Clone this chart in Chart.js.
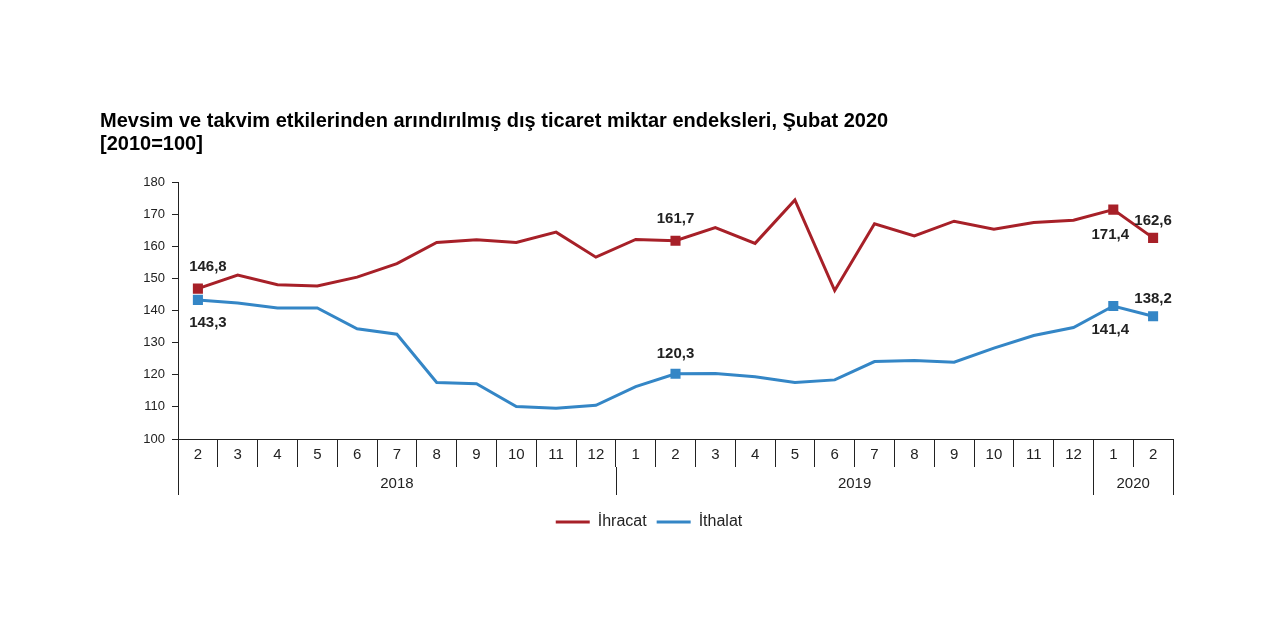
<!DOCTYPE html>
<html>
<head>
<meta charset="utf-8">
<script src="https://cdn.jsdelivr.net/npm/chart.js@4.4.0/dist/chart.umd.min.js"></script>
<style>
  body { margin: 0; background: #fff; }
  #wrap { position: relative; width: 1280px; height: 640px; }
  #title {
    position: absolute; left: 100px; top: 109px;
    font: bold 20px "Liberation Sans", Arial, sans-serif;
    line-height: 23px; color: #000;
  }
  canvas { position: absolute; left: 0; top: 0; }
</style>
</head>
<body>
<div id="wrap">
  <canvas id="chart" width="1280" height="640"></canvas>
  <div id="title">Mevsim ve takvim etkilerinden arındırılmış dış ticaret miktar endeksleri, Şubat 2020<br>[2010=100]</div>
</div>
<script>
// months Feb 2018 .. Feb 2020
let months = ['2','3','4','5','6','7','8','9','10','11','12',
              '1','2','3','4','5','6','7','8','9','10','11','12',
              '1','2'];
let years = ['2018', '2019', '2020'];
let yearSpans = [11, 12, 2];

let ihracat = [146.8, 151.0, 148.0, 147.6, 150.4, 154.6, 161.2, 162.0, 161.2, 164.4, 156.6,
               162.1, 161.7, 165.8, 160.9, 174.4, 146.2, 167.0, 163.2, 167.8, 165.3, 167.4, 168.1,
               171.4, 162.6];
let ithalat = [143.3, 142.3, 140.8, 140.8, 134.3, 132.6, 117.6, 117.2, 110.1, 109.6, 110.5,
               116.3, 120.3, 120.4, 119.4, 117.6, 118.4, 124.1, 124.4, 123.9, 128.3, 132.2, 134.7,
               141.4, 138.2];
let markedPoints = [0, 12, 23, 24];
let yTicks = [100, 110, 120, 130, 140, 150, 160, 170, 180];

let red = 'rgb(167,32,40)';
let blue = 'rgb(52,134,198)';
let axisColor = '#222';
let font = '"Liberation Sans", Arial, sans-serif';

// where each value label sits relative to its point [index, dx, dy]
let labelPlace = [
  [[0, 10, -22], [12, 0, -22], [23, -3, 25], [24, 0, -17]],
  [[0, 10, 23], [12, 0, -20], [23, -3, 24], [24, 0, -17]]
];

function radii() {
  return months.map((m, i) => markedPoints.includes(i) ? 5 : 0);
}

const valueLabels = {
  id: 'valueLabels',
  afterDatasetsDraw(chart) {
    let ctx = chart.ctx;
    ctx.save();
    ctx.font = 'bold 15px ' + font;
    ctx.fillStyle = '#222';
    ctx.textAlign = 'center';
    ctx.textBaseline = 'middle';
    chart.data.datasets.forEach((ds, d) => {
      let meta = chart.getDatasetMeta(d);
      labelPlace[d].forEach(([i, dx, dy]) => {
        let pt = meta.data[i];
        ctx.fillText(ds.data[i].toFixed(1).replace('.', ','), pt.x + dx, pt.y + dy);
      });
    });
    ctx.restore();
  }
};

const yearAxis = {
  id: 'yearAxis',
  afterDraw(chart) {
    let ctx = chart.ctx;
    let x = chart.scales.x;
    let bottom = chart.chartArea.bottom;
    let half = (x.getPixelForValue(1) - x.getPixelForValue(0)) / 2;
    ctx.save();
    ctx.strokeStyle = axisColor;
    ctx.lineWidth = 1;
    ctx.fillStyle = '#222';
    ctx.font = '15px ' + font;
    ctx.textAlign = 'center';
    ctx.textBaseline = 'middle';
    let start = 0;
    let right = 0;
    years.forEach((yr, k) => {
      let left = x.getPixelForValue(start) - half;
      right = x.getPixelForValue(start + yearSpans[k] - 1) + half;
      let lx = Math.round(left) + 0.5;
      ctx.beginPath();
      ctx.moveTo(lx, bottom + 28);
      ctx.lineTo(lx, bottom + 56);
      ctx.stroke();
      ctx.fillText(yr, (left + right) / 2, bottom + 45);
      start += yearSpans[k];
    });
    let rx = Math.round(right) + 0.5;
    ctx.beginPath();
    ctx.moveTo(rx, bottom + 28);
    ctx.lineTo(rx, bottom + 56);
    ctx.stroke();
    ctx.restore();
  }
};

let ctx = document.getElementById('chart').getContext('2d');
let chart = new Chart(ctx, {
  type: 'line',
  data: {
    labels: months,
    datasets: [{
      label: 'İhracat',
      data: ihracat,
      borderColor: red,
      backgroundColor: red,
      borderWidth: 3,
      pointStyle: 'rect',
      pointRadius: radii(),
      pointHoverRadius: radii(),
      pointBackgroundColor: red,
      pointBorderColor: red,
      tension: 0
    }, {
      label: 'İthalat',
      data: ithalat,
      borderColor: blue,
      backgroundColor: blue,
      borderWidth: 3,
      pointStyle: 'rect',
      pointRadius: radii(),
      pointHoverRadius: radii(),
      pointBackgroundColor: blue,
      pointBorderColor: blue,
      tension: 0
    }]
  },
  options: {
    responsive: false,
    animation: false,
    layout: {
      padding: { left: 125, right: 107, top: 182, bottom: 100 }
    },
    plugins: {
      tooltip: { enabled: false },
      legend: {
        position: 'bottom',
        labels: {
          usePointStyle: true,
          pointStyle: 'line',
          pointStyleWidth: 34,
          color: '#222',
          padding: 10,
          font: { family: font, size: 16 }
        }
      }
    },
    scales: {
      x: {
        offset: true,
        grid: {
          offset: true,
          drawOnChartArea: false,
          tickLength: 28,
          color: axisColor
        },
        border: { display: true, color: axisColor },
        ticks: {
          autoSkip: false,
          maxRotation: 0,
          padding: -21,
          color: '#222',
          font: { family: font, size: 15 }
        },
        afterFit(scale) { scale.height = 65; }
      },
      y: {
        min: 100,
        max: 180,
        afterBuildTicks(scale) { scale.ticks = yTicks.map(v => ({ value: v })); },
        grid: {
          drawOnChartArea: false,
          tickLength: 6,
          color: axisColor
        },
        border: { display: true, color: axisColor },
        ticks: {
          padding: 7,
          color: '#222',
          font: { family: font, size: 13 }
        },
        afterFit(scale) { scale.width = 53; }
      }
    }
  },
  plugins: [valueLabels, yearAxis]
});
</script>
</body>
</html>
